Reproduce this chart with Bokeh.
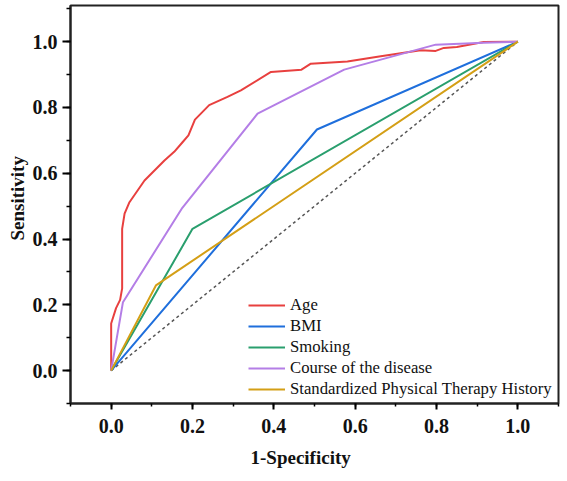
from bokeh.plotting import figure
from bokeh.models import (Legend, LegendItem, SingleIntervalTicker, Range1d,
                          PrintfTickFormatter, Title)
from bokeh.embed import file_html
from bokeh.resources import INLINE

# ROC curves (false positive rate vs. true positive rate)
age_fpr = [0, 0, 0.012, 0.022, 0.027, 0.027, 0.033, 0.045, 0.082, 0.131, 0.155, 0.176,
           0.19, 0.206, 0.241, 0.286, 0.319, 0.393, 0.468, 0.491, 0.581, 0.663, 0.761,
           0.798, 0.818, 0.85, 0.916, 1.0]
age_tpr = [0, 0.143, 0.19, 0.215, 0.25, 0.431, 0.477, 0.512, 0.578, 0.639, 0.665, 0.695,
           0.715, 0.763, 0.807, 0.832, 0.852, 0.908, 0.915, 0.933, 0.94, 0.956, 0.974,
           0.972, 0.981, 0.984, 0.999, 1.0]

bmi_fpr = [0, 0.506, 1.0]
bmi_tpr = [0, 0.733, 1.0]

smoking_fpr = [0, 0.2, 1.0]
smoking_tpr = [0, 0.431, 1.0]

course_fpr = [0, 0.029, 0.175, 0.36, 0.573, 0.798, 0.916, 1.0]
course_tpr = [0, 0.208, 0.495, 0.781, 0.915, 0.991, 0.997, 1.0]

therapy_fpr = [0, 0.11, 1.0]
therapy_tpr = [0, 0.259, 1.0]

ref_x = [0, 1]
ref_y = [0, 1]

series = [
    ("Age", age_fpr, age_tpr, "#e8403f"),
    ("BMI", bmi_fpr, bmi_tpr, "#1f6fdc"),
    ("Smoking", smoking_fpr, smoking_tpr, "#2a9f6e"),
    ("Course of the disease", course_fpr, course_tpr, "#b47ee6"),
    ("Standardized Physical Therapy History", therapy_fpr, therapy_tpr, "#d49f16"),
]

p = figure(width=567, height=481, output_backend="svg", toolbar_location=None,
           x_range=Range1d(-0.1, 1.1), y_range=Range1d(-0.1, 1.11),
           min_border_left=70, min_border_right=9, min_border_top=5,
           min_border_bottom=78)
p.grid.visible = False
p.background_fill_color = "white"
p.border_fill_color = "white"
p.outline_line_color = "#222222"
p.outline_line_width = 2

# chance line
p.line(ref_x, ref_y, line_color="#555555", line_width=1.5, line_dash="3 3")

items = []
for name, xs, ys, col in series:
    r = p.line(xs, ys, line_color=col, line_width=2)
    items.append(LegendItem(label=name, renderers=[r]))

serif = "Liberation Serif"
for ax in (p.xaxis[0], p.yaxis[0]):
    ax.ticker = SingleIntervalTicker(interval=0.2, num_minor_ticks=2)
    ax.formatter = PrintfTickFormatter(format="%.1f")
    ax.axis_line_width = 2
    ax.axis_line_color = "#222222"
    ax.major_tick_line_width = 2
    ax.minor_tick_line_width = 1.5
    ax.major_tick_in = 0
    ax.minor_tick_in = 0
    ax.major_label_text_font = serif
    ax.major_label_text_font_style = "bold"
    ax.major_label_text_font_size = "20px"
    ax.major_label_text_color = "#111111"

p.xaxis.major_tick_out = 6
p.xaxis.minor_tick_out = 3
p.yaxis.major_tick_out = 8
p.yaxis.minor_tick_out = 4
p.xaxis.major_label_standoff = 9
p.yaxis.major_label_standoff = 5

# axis titles as side titles so they can be shifted along the axis
ytitle = Title(text="Sensitivity", align="left", offset=163,
               text_font=serif, text_font_style="bold", text_font_size="19px",
               text_color="#111111", standoff=4)
p.add_layout(ytitle, "left")

xtitle = Title(text="1-Specificity", align="left", offset=180,
               text_font=serif, text_font_style="bold", text_font_size="19px",
               text_color="#111111", standoff=19)
p.add_layout(xtitle, "below")

legend = Legend(items=items, location=(178, 4), border_line_color=None,
                background_fill_alpha=0, padding=0, margin=0, spacing=1,
                glyph_width=37, glyph_height=20, label_height=20,
                label_standoff=5, label_text_font=serif,
                label_text_font_size="16.7px", label_text_color="#111111")
p.add_layout(legend)

open("out.html", "w").write(file_html(p, INLINE))
